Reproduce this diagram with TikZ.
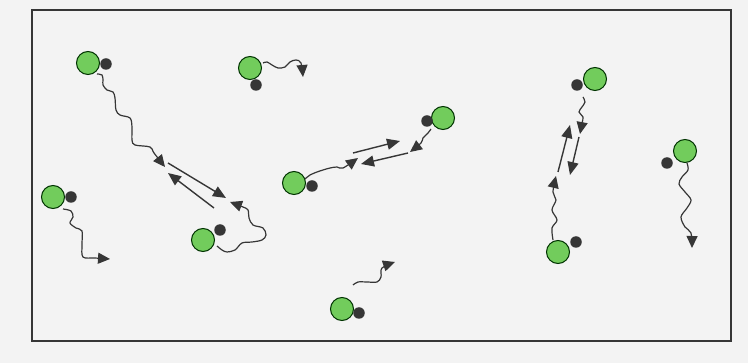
\documentclass[tikz,border=0pt]{standalone}
\usetikzlibrary{arrows.meta}
\definecolor{paper}{HTML}{F3F3F3}
\definecolor{molgreen}{HTML}{72CC5C}
\definecolor{ink}{HTML}{363636}
\begin{document}
\begin{tikzpicture}[x=1pt,y=-1pt,
  bigmol/.style={circle,draw=black!80!green,line width=1pt,fill=molgreen,minimum size=23pt,inner sep=0pt},
  smallmol/.style={circle,fill=ink,minimum size=11.5pt,inner sep=0pt},
  walk/.style={draw=ink,line width=1.2pt,-{Triangle[length=12pt,width=11pt]}},
  jump/.style={draw=ink,line width=1.4pt,-{Triangle[length=13pt,width=11pt]}}]
  % page and frame
  \fill[paper] (0,0) rectangle (748,363);
  \useasboundingbox (0,0) rectangle (748,363);
  \draw[ink,line width=1.5pt] (32,10) rectangle (731,341);

  % molecules: green body with dark partner
  \node[bigmol] (g1) at (88,63) {};   \node[smallmol] (d1) at (106,64) {};
  \node[bigmol] (g2) at (250,68) {};  \node[smallmol] (d2) at (256,85) {};
  \node[bigmol] (g3) at (53,197) {};  \node[smallmol] (d3) at (71,197) {};
  \node[bigmol] (g4) at (203,240) {}; \node[smallmol] (d4) at (220,230) {};
  \node[bigmol] (g5) at (294,183) {}; \node[smallmol] (d5) at (312,186) {};
  \node[bigmol] (g6) at (443,118) {}; \node[smallmol] (d6) at (427,121) {};
  \node[bigmol] (g7) at (595,79) {};  \node[smallmol] (d7) at (577,85) {};
  \node[bigmol] (g8) at (558,252) {}; \node[smallmol] (d8) at (576,242) {};
  \node[bigmol] (g9) at (685,151) {}; \node[smallmol] (d9) at (667,163) {};
  \node[bigmol] (g10) at (342,309) {};\node[smallmol] (d10) at (359,313) {};

  % diffusive walks
  \draw[walk] plot[smooth,tension=0.55] coordinates {(97,74) (102,75) (103,80) (103,85) (107,90) (113,92) (115,98) (116,110) (120,115) (130,118) (132,127) (132,140) (135,145) (150,147) (154,153) (165,167)};
  \draw[walk] plot[smooth,tension=0.55] coordinates {(217,246) (222,250) (227,252) (235,250) (242,243) (252,242) (262,240) (266,235) (263,228) (253,225) (249,218) (248,210) (243,207) (230,202)};
  \draw[walk] plot[smooth,tension=0.55] coordinates {(263,63) (267,62) (272,65) (278,68) (285,67) (290,62) (296,60) (301,63) (303,77)};
  \draw[walk] plot[smooth,tension=0.55] coordinates {(305,179) (310,175) (317,172) (323,170) (330,168) (337,167) (343,168) (358,158)};
  \draw[walk] plot[smooth,tension=0.55] coordinates {(431,129) (428,133) (423,138) (421,143) (410,152)};
  \draw[walk] plot[smooth,tension=0.55] coordinates {(583,97) (585,102) (582,107) (579,112) (583,117) (582,123) (580,134)};
  \draw[walk] plot[smooth,tension=0.55] coordinates {(553,240) (552,228) (557,220) (552,210) (556,200) (553,192) (556,176)};
  \draw[walk] plot[smooth,tension=0.55] coordinates {(687,163) (688,170) (682,177) (679,184) (685,192) (691,200) (687,208) (681,217) (685,227) (691,233) (692,248)};
  \draw[walk] plot[smooth,tension=0.55] coordinates {(63,209) (71,211) (73,217) (70,223) (76,228) (82,231) (82,245) (83,257) (95,258) (110,259)};
  \draw[walk] plot[smooth,tension=0.55] coordinates {(353,285) (358,282) (367,282) (377,282) (381,277) (382,268) (395,262)};

  % direct exchanges between bound pairs
  \coordinate (a1) at (168,163); \coordinate (a2) at (226,198);
  \coordinate (b1) at (214,208); \coordinate (b2) at (168,173);
  \draw[jump] (a1) -- (a2);
  \draw[jump] (b1) -- (b2);
  \coordinate (c1) at (353,153); \coordinate (c2) at (400,141);
  \coordinate (e1) at (408,153); \coordinate (e2) at (361,164);
  \draw[jump] (c1) -- (c2);
  \draw[jump] (e1) -- (e2);
  \coordinate (h1) at (579,137); \coordinate (h2) at (570,175);
  \coordinate (k1) at (558,172); \coordinate (k2) at (570,125);
  \draw[jump] (h1) -- (h2);
  \draw[jump] (k1) -- (k2);
\end{tikzpicture}
\end{document}
